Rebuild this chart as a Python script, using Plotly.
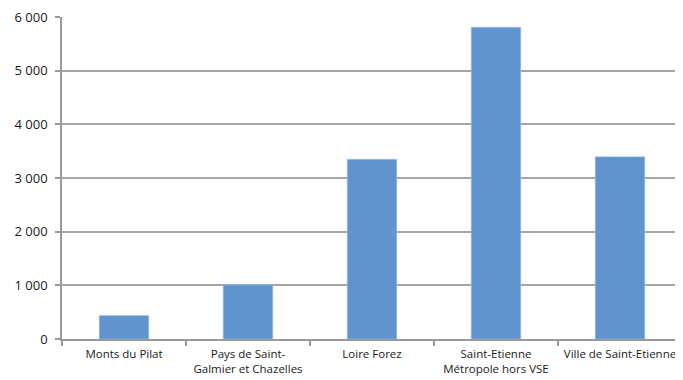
import plotly.graph_objects as go

categories = ["Monts du Pilat", "Pays de Saint-<br>Galmier et Chazelles", "Loire Forez",
              "Saint-Etienne<br>Métropole hors VSE", "Ville de Saint-Etienne"]
values = [440, 1010, 3350, 5810, 3395]
y_tickvals = [0, 1000, 2000, 3000, 4000, 5000, 6000]
y_ticktext = ["0", "1 000", "2 000", "3 000", "4 000", "5 000", "6 000"]

fig = go.Figure(go.Bar(
    x=categories, y=values,
    marker=dict(color="#5F95CC", line=dict(color="#A9C6E6", width=0.6)),
))

# page body has an 8px margin, so the figure is sized/offset to compensate
fig.update_layout(
    width=675, height=372,
    margin=dict(l=54, r=1, t=9, b=41, autoexpand=False),
    paper_bgcolor="white", plot_bgcolor="white",
    bargap=0.6,
    showlegend=False,
    font=dict(family="Open Sans, Lato, sans-serif", size=12, color="#1a1a1a"),
)
fig.update_xaxes(
    type="category", tickson="boundaries", ticks="outside", ticklen=5,
    tickcolor="#999999", tickwidth=1.5, automargin=False, tickangle=0,
    showline=True, linecolor="#999999", linewidth=1.5,
    showgrid=False, tickfont=dict(size=11.5), ticklabelstandoff=3,
    ticklabeloverflow="allow",
)
fig.update_yaxes(
    range=[0, 6000], tickvals=y_tickvals, ticktext=y_ticktext,
    ticks="outside", ticklen=5, tickcolor="#999999", tickwidth=1.5, automargin=False,
    showline=True, linecolor="#999999", linewidth=1.5,
    showgrid=True, gridcolor="#A6A6A6", gridwidth=1.5,
    zeroline=False, tickfont=dict(size=13), ticklabelstandoff=5,
    ticklabeloverflow="allow",
)

fig.write_html("out.html")
